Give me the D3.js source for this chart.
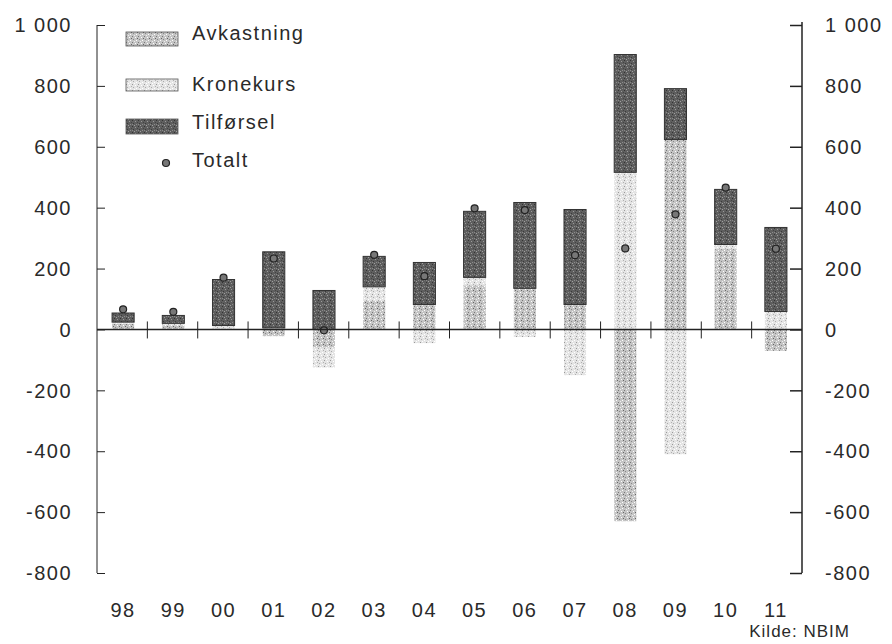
<!DOCTYPE html>
<html>
<head>
<meta charset="utf-8">
<script src="https://cdn.jsdelivr.net/npm/d3@7"></script>
<style>
  body { margin: 0; background: #fff; }
  svg text { font-family: "Liberation Sans", Arial, sans-serif; fill: #2a2a2a; letter-spacing: 1.5px; }
</style>
</head>
<body>
<div id="chart"></div>
<script>
// Endring i markedsverdi per år, mrd. kroner

const years = ["98", "99", "00", "01", "02", "03", "04", "05", "06", "07", "08", "09", "10", "11"];
const avkastning = [18, 14, 3, -22, -60, 95, 82, 145, 135, 82, -630, 624, 264, -70];
const kronekurs = [6, 6, 10, 5, -65, 45, -45, 26, -25, -150, 516, -410, 15, 59];
const tilforsel = [30, 26, 151, 250, 128, 100, 138, 217, 282, 312, 387, 167, 181, 276];
const totalt = [66, 58, 170, 233, -3, 245, 175, 398, 392, 244, 266, 378, 466, 265];
const yTicks = [-800, -600, -400, -200, 0, 200, 400, 600, 800, 1000];
const seriesNames = ["Avkastning", "Kronekurs", "Tilførsel"];

const width = 892;
const height = 644;
const plotLeft = 97, plotRight = 802, plotBottom = 573;

const svg = d3.select("#chart").append("svg")
  .attr("width", width)
  .attr("height", height);

// stipple patterns like the scanned original
const defs = svg.append("defs");
function stipple(id, bg, dots) {
  const p = defs.append("pattern").attr("id", id)
    .attr("patternUnits", "userSpaceOnUse").attr("width", 6).attr("height", 6);
  p.append("rect").attr("width", 6).attr("height", 6).attr("fill", bg);
  dots.forEach(([x, y, c]) => p.append("rect").attr("x", x).attr("y", y).attr("width", 1).attr("height", 1).attr("fill", c));
}
stipple("p-avk", "#c4c4c4", [[0, 0, "#777"], [3, 1, "#fff"], [1, 3, "#888"], [4, 4, "#fff"], [5, 2, "#666"], [2, 5, "#eee"]]);
stipple("p-kro", "#e4e4e4", [[0, 0, "#999"], [3, 1, "#fff"], [1, 3, "#aaa"], [4, 4, "#fff"], [5, 2, "#b0b0b0"], [2, 5, "#fff"]]);
stipple("p-til", "#5e5e5e", [[0, 0, "#333"], [3, 1, "#9a9a9a"], [1, 3, "#3a3a3a"], [4, 4, "#8c8c8c"], [5, 2, "#444"], [2, 5, "#a0a0a0"], [0, 4, "#888"]]);
const fills = { "Avkastning": "url(#p-avk)", "Kronekurs": "url(#p-kro)", "Tilførsel": "url(#p-til)" };

const x = d3.scaleBand().domain(years).range([plotLeft, plotRight]).paddingInner(0.56).paddingOuter(0.3);
const y = d3.scaleLinear().domain([-800, 1000]).range([plotBottom, 25]);

const rows = years.map((yr, i) => ({
  year: yr,
  "Avkastning": avkastning[i],
  "Kronekurs": kronekurs[i],
  "Tilførsel": tilforsel[i]
}));

const stack = d3.stack().keys(seriesNames).offset(d3.stackOffsetDiverging);
const layers = stack(rows);

const barsG = svg.append("g");
layers.forEach(layer => {
  barsG.selectAll(null)
    .data(layer.filter(d => d[1] !== d[0]))
    .enter().append("rect")
    .attr("x", d => x(d.data.year))
    .attr("width", x.bandwidth())
    .attr("y", d => y(Math.max(d[0], d[1])))
    .attr("height", d => Math.abs(y(d[0]) - y(d[1])))
    .attr("fill", fills[layer.key])
    .attr("stroke", layer.key === "Tilførsel" ? "#333" : "none")
    .attr("stroke-width", 1);
});

// Totalt markers
svg.append("g").selectAll("circle")
  .data(years.map((yr, i) => ({ year: yr, v: totalt[i] })))
  .enter().append("circle")
  .attr("cx", d => x(d.year) + x.bandwidth() / 2)
  .attr("cy", d => y(d.v))
  .attr("r", 3.5)
  .attr("fill", "#777")
  .attr("stroke", "#222")
  .attr("stroke-width", 1.2);

// left axis
const leftAxis = svg.append("g").attr("transform", `translate(${plotLeft},0)`)
  .call(d3.axisRight(y).tickValues(yTicks).tickSize(8).tickFormat(""));
leftAxis.select(".domain").attr("d", `M0,${y(1000)}V${y(-800)}`).attr("stroke", "#222");
leftAxis.selectAll(".tick line").attr("stroke", "#222");

// right axis
const rightAxis = svg.append("g").attr("transform", `translate(${plotRight},0)`)
  .call(d3.axisLeft(y).tickValues(yTicks).tickSize(12).tickFormat(""));
rightAxis.select(".domain").attr("d", `M0,${y(1000) - 3}V${y(-800)}`).attr("stroke", "#222").attr("stroke-width", 1.5);
rightAxis.selectAll(".tick line").attr("stroke", "#222").attr("stroke-width", 1.5);

const fmt = v => v === 1000 ? "1 000" : String(v);
svg.append("g").selectAll("text")
  .data(yTicks)
  .enter().append("text")
  .attr("x", 72)
  .attr("y", d => y(d))
  .attr("dy", "0.36em")
  .attr("text-anchor", "end")
  .style("font-size", "20px")
  .text(fmt);

svg.append("g").selectAll("text")
  .data(yTicks)
  .enter().append("text")
  .attr("x", 825)
  .attr("y", d => y(d))
  .attr("dy", "0.36em")
  .style("font-size", "20px")
  .text(fmt);

// zero line with category separators
svg.append("line")
  .attr("x1", plotLeft).attr("x2", plotRight)
  .attr("y1", y(0)).attr("y2", y(0))
  .attr("stroke", "#222").attr("stroke-width", 1.6);

const step = (plotRight - plotLeft) / years.length;
svg.append("g").selectAll("line")
  .data(years.slice(1))
  .enter().append("line")
  .attr("x1", (d, i) => plotLeft + step * (i + 1))
  .attr("x2", (d, i) => plotLeft + step * (i + 1))
  .attr("y1", y(0) - 8)
  .attr("y2", y(0) + 9)
  .attr("stroke", "#222");

// year labels
svg.append("g").selectAll("text")
  .data(years)
  .enter().append("text")
  .attr("x", d => x(d) + x.bandwidth() / 2)
  .attr("y", 617)
  .attr("text-anchor", "middle")
  .style("font-size", "20px")
  .text(d => d);

// legend
const swatchY = [32, 79, 119];
const swatchH = [14, 12, 15];
const labelY = [33, 84, 122];
seriesNames.forEach((name, i) => {
  svg.append("rect")
    .attr("x", 126).attr("y", swatchY[i])
    .attr("width", 52).attr("height", swatchH[i])
    .attr("fill", fills[name])
    .attr("stroke", "#555").attr("stroke-width", 0.8);
  svg.append("text")
    .attr("x", 192).attr("y", labelY[i])
    .attr("dy", "0.36em")
    .style("font-size", "20px")
    .text(name);
});
svg.append("circle")
  .attr("cx", 166).attr("cy", 163).attr("r", 3.5)
  .attr("fill", "#777").attr("stroke", "#222").attr("stroke-width", 1.2);
svg.append("text")
  .attr("x", 192).attr("y", 160)
  .attr("dy", "0.36em")
  .style("font-size", "20px")
  .text("Totalt");

svg.append("text")
  .attr("x", 850).attr("y", 637)
  .attr("text-anchor", "end")
  .style("font-size", "17px")
  .style("letter-spacing", "1px")
  .text("Kilde: NBIM");
</script>
</body>
</html>
